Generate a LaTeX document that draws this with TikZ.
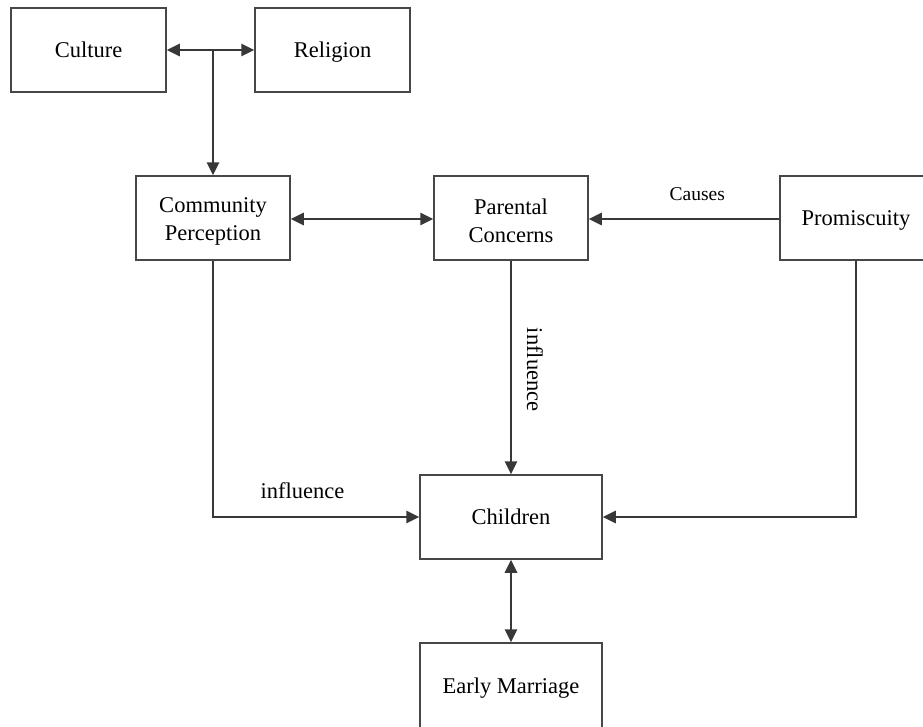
\documentclass[tikz,border=0pt]{standalone}
\usepackage{fontspec}
\setmainfont{Liberation Serif}
\usetikzlibrary{arrows.meta}
\begin{document}
\begin{tikzpicture}[x=1pt,y=-1pt,
  box/.style={draw=black!72,line width=1.5pt,fill=white,inner sep=0pt,align=center,font=\fontsize{22.5}{28}\selectfont},
  one/.style={text height=15pt,text depth=0pt},
  conn/.style={draw=black!78,line width=1.5pt},
  tip/.style={-{Triangle[length=13pt,width=12.5pt]}},
  bitip/.style={{Triangle[length=13pt,width=12.5pt]}-{Triangle[length=13pt,width=12.5pt]}},
  lab/.style={font=\fontsize{22.5}{27}\selectfont,inner sep=0pt},
  slab/.style={font=\fontsize{19.5}{23}\selectfont,inner sep=0pt}]
\useasboundingbox (0,0) rectangle (923,726);
\clip (0,0) rectangle (923,726);
\node[box,one,minimum width=155pt,minimum height=84pt] (cul) at (88.5,50) {Culture};
\node[box,one,minimum width=155pt,minimum height=84pt] (rel) at (332.5,50) {Religion};
\node[box,minimum width=154pt,minimum height=84pt] (com) at (213,218) {\rule{0pt}{21pt}Community\\Perception};
\node[box,minimum width=154pt,minimum height=84pt] (par) at (511,218) {\rule{0pt}{21pt}Parental\\Concerns};
\node[box,one,minimum width=152pt,minimum height=84pt] (pro) at (856,218) {Promiscuity};
\node[box,one,minimum width=182pt,minimum height=84pt] (chi) at (511,517) {Children};
\node[box,one,minimum width=182pt,minimum height=86pt] (ear) at (511,686) {Early Marriage};
\coordinate (j) at (213,50);
\draw[conn,bitip] (cul.east) -- (rel.west);
\draw[conn,tip] (j) -- (com.north);
\draw[conn,bitip] (com.east |- 0,219) -- (par.west |- 0,219);
\draw[conn,tip] (pro.west |- 0,219) -- node[slab,pos=0.43,anchor=base,yshift=19pt] {Causes} (par.east |- 0,219);
\draw[conn,tip] (par.south) -- node[lab,pos=0.51,rotate=-90,anchor=base,yshift=16pt] {influence} (chi.north);
\draw[conn,tip] (com.south) |- node[lab,pos=0.717,anchor=base,yshift=19pt] {influence} (chi.west);
\draw[conn,tip] (pro.south) |- (chi.east);
\draw[conn,bitip] (chi.south) -- (ear.north);
\end{tikzpicture}
\end{document}
